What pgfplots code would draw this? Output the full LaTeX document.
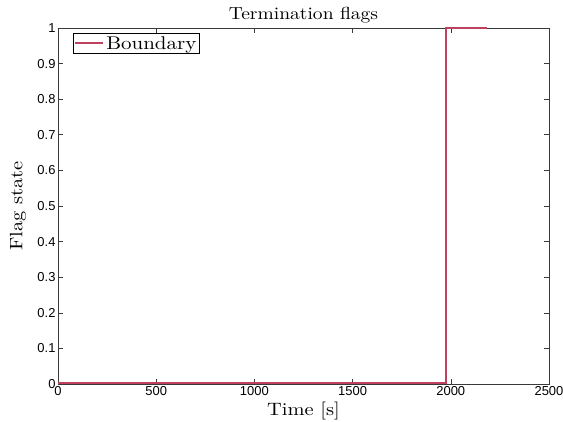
\documentclass[border=0pt]{standalone}
\usepackage{fontspec}
\usepackage{graphicx}
\usepackage{pgfplots}
\pgfplotsset{compat=1.18}
\newfontfamily\ticksf{Liberation Sans}
\newfontfamily\lmten[Extension=.otf]{lmroman10-regular}
\newcommand{\wide}[1]{\scalebox{1.14}[1]{#1}}
\definecolor{flagred}{HTML}{C0415F}
\definecolor{axgray}{HTML}{3A3A3A}
\begin{document}
\begin{tikzpicture}
\begin{axis}[
  scale only axis,
  width=491bp, height=356bp,
  xmin=0, xmax=2500, ymin=0, ymax=1,
  xtick={0,500,...,2500},
  ytick={0,0.1,...,1},
  yticklabels={0,0.1,0.2,0.3,0.4,0.5,0.6,0.7,0.8,0.9,1},
  scaled x ticks=false,
  /pgf/number format/assume math mode=true,
  /pgf/number format/1000 sep={},
  tick label style={font=\ticksf\fontsize{13}{15}\selectfont, text=black},
  xticklabel style={yshift=1bp},
  yticklabel style={xshift=1bp},
  tick align=inside,
  major tick length=5bp,
  axis line style={axgray, line width=0.6pt},
  every tick/.style={axgray, line width=0.6pt},
  xlabel={\wide{Time [s]}},
  ylabel={\wide{Flag state}},
  label style={font=\lmten\fontsize{18}{20}\selectfont},
  xlabel style={at={(axis description cs:0.5,0)}, anchor=base, yshift=-31bp},
  ylabel style={at={(axis description cs:-0.0815,0.5)}, anchor=center},
  legend style={at={(0.031,0.986)}, anchor=north west, draw=black, line width=0.5pt,
    font=\lmten\fontsize{18.5}{20}\selectfont, inner sep=1pt, row sep=0pt},
  legend cell align=left,
  legend image code/.code={\draw[#1] (0cm,0cm) -- (28bp,0cm);},
]
\addplot[draw=flagred, line width=1.8pt] coordinates {
  (0,0.003) (1974,0.003) (1974,1) (2185,1)
};
\addlegendentry{\wide{Boundary}}
\end{axis}
\path (current axis.north) ++(0,8.5bp) node[anchor=base, inner sep=0pt, font=\lmten\fontsize{17.5}{19}\selectfont] {\scalebox{1.12}[1]{Termination flags}};
\pgfresetboundingbox
\path (current axis.south west) ++(-58bp,-38bp) coordinate (bbA);
\path (current axis.north east) ++(14bp,28bp) coordinate (bbB);
\path[use as bounding box] (bbA) rectangle (bbB);
\end{tikzpicture}
\end{document}
